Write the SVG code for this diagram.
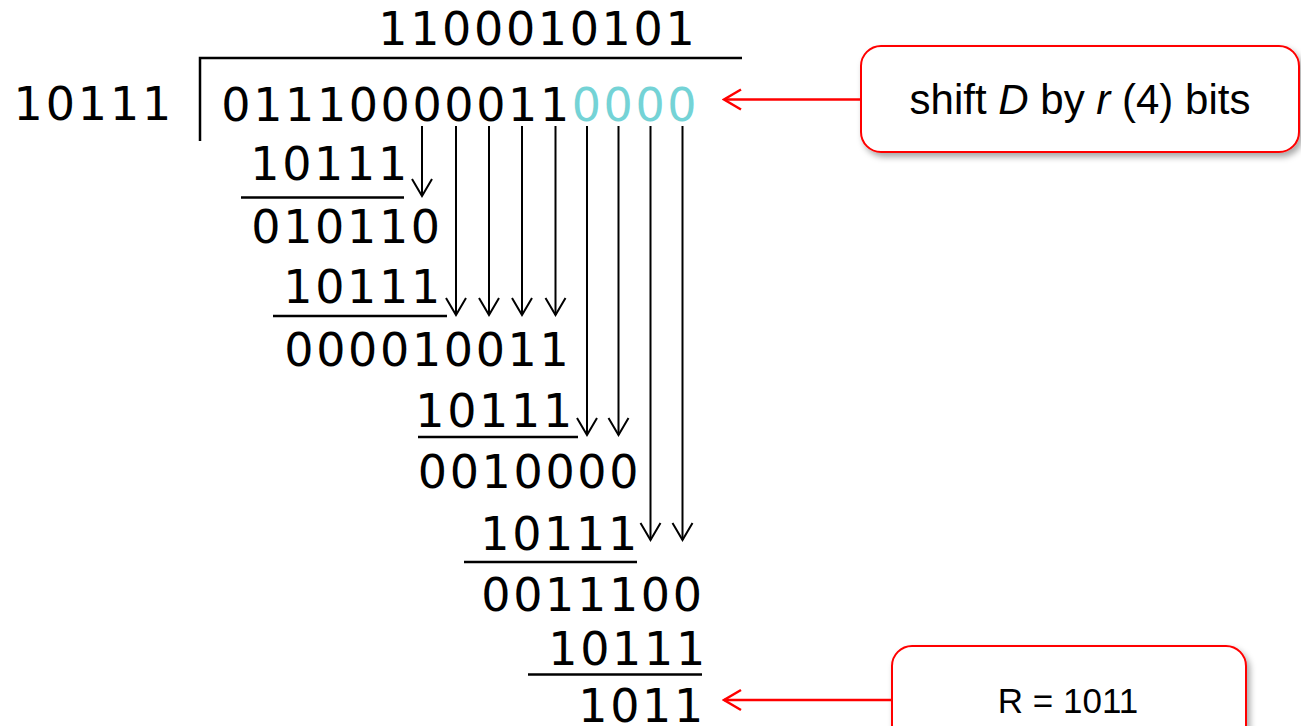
<svg xmlns="http://www.w3.org/2000/svg" width="1301" height="726" viewBox="0 0 1301 726">
  <style>
    .bits { font-family: "DejaVu Sans", "Liberation Sans", sans-serif; font-size: 46px; fill: #000; }
    .pad { fill: #74d3d6; }
    .rule { stroke: #000; stroke-width: 2.5; fill: none; }
    .drop { stroke: #000; stroke-width: 2; fill: none; marker-end: url(#vhead); }
    .note { stroke: #ff0000; stroke-width: 2.5; fill: none; marker-end: url(#vhead-red); }
    .callout { fill: #fff; stroke: #ff0000; stroke-width: 2; filter: url(#shadow); }
    .label { font-family: "Liberation Sans", Arial, sans-serif; fill: #000; text-anchor: middle; }
  </style>
  <defs>
    <marker id="vhead" viewBox="0 0 20 24" markerWidth="20" markerHeight="24" refX="18" refY="12" orient="auto" markerUnits="userSpaceOnUse">
      <path d="M1,2 L18,12 L1,22" fill="none" stroke="#000" stroke-width="2"/>
    </marker>
    <marker id="vhead-red" viewBox="0 0 20 24" markerWidth="20" markerHeight="24" refX="18" refY="12" orient="auto" markerUnits="userSpaceOnUse">
      <path d="M1,2 L18,12 L1,22" fill="none" stroke="#ff0000" stroke-width="2.5"/>
    </marker>
    <filter id="shadow" x="-10%" y="-20%" width="125%" height="150%">
      <feDropShadow dx="3" dy="4" stdDeviation="3" flood-color="#000" flood-opacity="0.35"/>
    </filter>
  </defs>

  <!-- long division frame -->
  <g id="frame">
    <path class="rule" d="M200,141 V58 H742"/>
  </g>

  <!-- quotient -->
  <g id="quotient">
    <text class="bits" y="45" x="378.3 410.2 442.1 474 505.9 537.8 569.7 601.6 633.5 665.4">1100010101</text>
  </g>

  <!-- divisor -->
  <g id="divisor">
    <text class="bits" y="120" x="13.6 45.7 77.8 109.9 142">10111</text>
  </g>

  <!-- dividend with the appended zero bits -->
  <g id="dividend">
    <text class="bits" y="121" x="221.3 253.2 285 316.9 348.7 380.6 412.5 444.3 476.2 508 539.9">01110000011</text>
    <text class="bits pad" y="121" x="571.8 603.6 635.5 667.3">0000</text>
  </g>

  <!-- subtraction steps -->
  <g id="step1">
    <text class="bits" y="180" x="250.3 282.2 314.1 346 377.9">10111</text>
    <line class="rule" x1="241" y1="197.5" x2="404" y2="197.5"/>
    <text class="bits" y="243" x="251.3 283.2 315.1 347 378.9 410.8">010110</text>
  </g>
  <g id="step2">
    <text class="bits" y="303" x="283.3 315.2 347.1 379 410.9">10111</text>
    <line class="rule" x1="273" y1="316" x2="447" y2="316"/>
    <text class="bits" y="365.5" x="284.3 316.2 348.1 380 411.9 443.8 475.7 507.6 539.5">000010011</text>
  </g>
  <g id="step3">
    <text class="bits" y="426.5" x="415.3 447.2 479.1 511 542.9">10111</text>
    <line class="rule" x1="418" y1="437" x2="578" y2="437"/>
    <text class="bits" y="488" x="417.8 449.7 481.6 513.5 545.4 577.3 609.2">0010000</text>
  </g>
  <g id="step4">
    <text class="bits" y="550" x="480.3 512.2 544.1 576 607.9">10111</text>
    <line class="rule" x1="464" y1="562" x2="637" y2="562"/>
    <text class="bits" y="610.5" x="481.3 513.2 545.1 577 608.9 640.8 672.7">0011100</text>
  </g>
  <g id="step5">
    <text class="bits" y="665" x="548.3 580.2 612.1 644 675.9">10111</text>
    <line class="rule" x1="528" y1="674.5" x2="702" y2="674.5"/>
    <text class="bits" y="721.5" x="578.3 610.2 642.1 674">1011</text>
  </g>

  <!-- callouts -->
  <g id="shift-note">
    <rect class="callout" x="861" y="46" width="438" height="106" rx="20" ry="20"/>
    <text class="label" x="1080" y="113.5" font-size="42">shift <tspan font-style="italic">D</tspan> by <tspan font-style="italic">r</tspan> (4) bits</text>
  </g>
  <g id="remainder-note">
    <rect class="callout" x="892" y="646" width="354" height="120" rx="20" ry="20"/>
    <text class="label" x="1068" y="713" font-size="35">R = 1011</text>
  </g>

  <!-- connectors -->
  <g id="connectors">
    <line class="drop" x1="422" y1="126" x2="422" y2="196"/>
    <line class="drop" x1="456" y1="126" x2="456" y2="315"/>
    <line class="drop" x1="489" y1="126" x2="489" y2="315"/>
    <line class="drop" x1="522" y1="126" x2="522" y2="315"/>
    <line class="drop" x1="555.5" y1="126" x2="555.5" y2="315"/>
    <line class="drop" x1="587" y1="126" x2="587" y2="435"/>
    <line class="drop" x1="618.5" y1="126" x2="618.5" y2="435"/>
    <line class="drop" x1="650.5" y1="126" x2="650.5" y2="540"/>
    <line class="drop" x1="682.5" y1="126" x2="682.5" y2="540"/>
    <line class="note" x1="861" y1="99.5" x2="724" y2="99.5"/>
    <line class="note" x1="892" y1="700" x2="724" y2="700"/>
  </g>
</svg>
